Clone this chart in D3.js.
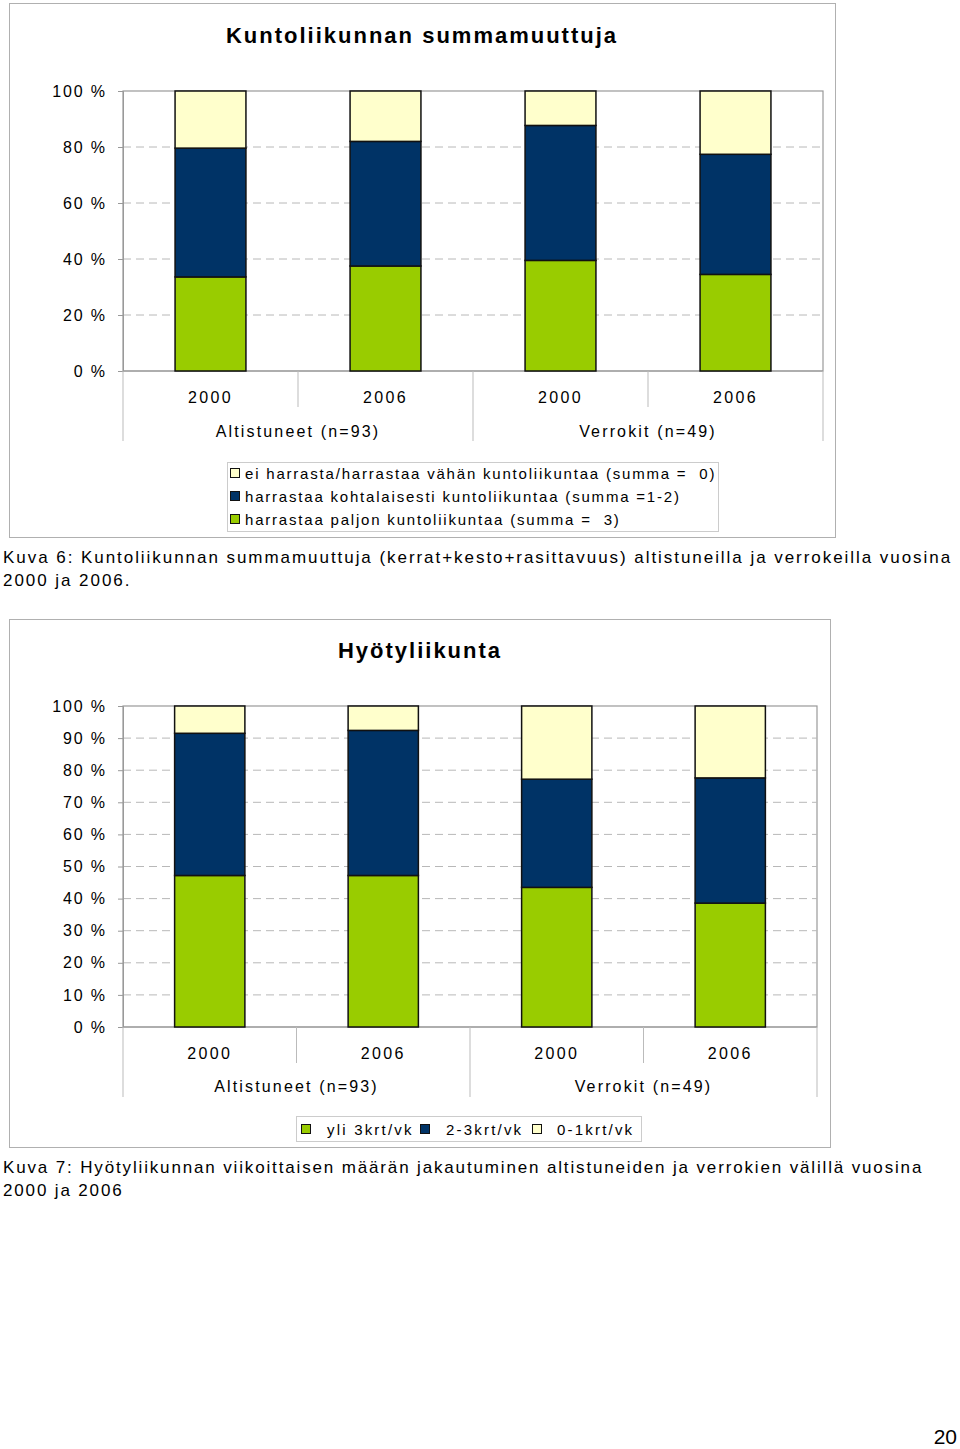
<!DOCTYPE html>
<html><head><meta charset="utf-8">
<script src="https://cdn.jsdelivr.net/npm/d3@7/dist/d3.min.js"></script>
<style>
body{margin:0;background:#fff;}
svg{display:block;font-family:"Liberation Sans",Arial,sans-serif;}
</style></head><body>
<svg id="c" width="960" height="1449"></svg>
<script>
// ---- data ----
const groups = ["Altistuneet (n=93)", "Verrokit (n=49)"];
const years = ["2000", "2006", "2000", "2006"];

// Chart 1: Kuntoliikunnan summamuuttuja (%)
const c1Title = "Kuntoliikunnan summamuuttuja";
const c1Paljon = [33.6, 37.5, 39.5, 34.5];   // harrastaa paljon (summa = 3)
const c1Kohtal = [46.0, 44.5, 48.2, 42.9];   // harrastaa kohtalaisesti (summa = 1-2)
const c1Vahan  = [20.4, 18.0, 12.3, 22.6];   // ei harrasta/harrastaa vähän (summa = 0)
const c1Legend = ["ei harrasta/harrastaa vähän kuntoliikuntaa (summa =  0)",
                  "harrastaa kohtalaisesti kuntoliikuntaa (summa =1-2)",
                  "harrastaa paljon kuntoliikuntaa (summa =  3)"];
const c1Ticks = [0, 20, 40, 60, 80, 100];
const c1Caption = ["Kuva 6: Kuntoliikunnan summamuuttuja (kerrat+kesto+rasittavuus) altistuneilla ja verrokeilla vuosina",
                   "2000 ja 2006."];

// Chart 2: Hyötyliikunta (%)
const c2Title = "Hyötyliikunta";
const c2Yli3 = [47.2, 47.2, 43.5, 38.6];   // yli 3krt/vk
const c2Mid  = [44.3, 45.2, 33.7, 39.0];   // 2-3krt/vk
const c2Low  = [8.5, 7.6, 22.8, 22.4];     // 0-1krt/vk
const c2Legend = ["yli 3krt/vk", "2-3krt/vk", "0-1krt/vk"];
const c2Ticks = [0, 10, 20, 30, 40, 50, 60, 70, 80, 90, 100];
const c2Caption = ["Kuva 7: Hyötyliikunnan viikoittaisen määrän jakautuminen altistuneiden ja verrokien välillä vuosina",
                   "2000 ja 2006"];

const GREEN = "#99cc00", NAVY = "#003366", CREAM = "#ffffcc";
const svg = d3.select("#c");

function drawChart(o) {
  const g = svg.append("g");
  g.append("rect").attr("x", o.box[0]).attr("y", o.box[1]).attr("width", o.box[2]).attr("height", o.box[3])
    .attr("fill", "#fff").attr("stroke", "#b0b0b0").attr("stroke-width", 1);
  g.append("text").attr("x", o.titleX).attr("y", o.titleY).attr("text-anchor", "middle")
    .attr("font-size", 22).attr("font-weight", "bold").attr("letter-spacing", 2.0).text(o.title);

  const x = d3.scaleBand().domain(d3.range(4)).range([o.px0, o.px1]).paddingInner(0.595).paddingOuter(0.2975);
  const xb = d3.scaleBand().domain(d3.range(4)).range([o.px0, o.px1]);
  const y = d3.scaleLinear().domain([0, 100]).range([o.py1, o.py0]);

  g.append("rect").attr("x", o.px0).attr("y", o.py0).attr("width", o.px1 - o.px0).attr("height", o.py1 - o.py0)
    .attr("fill", "none").attr("stroke", "#999").attr("stroke-width", 1.2);
  g.selectAll(".grid").data(o.ticks.filter(t => t > 0 && t < 100)).join("line")
    .attr("x1", o.px0).attr("x2", o.px1).attr("y1", d => y(d)).attr("y2", d => y(d))
    .attr("stroke", "#b8b8b8").attr("stroke-dasharray", "8,5");
  const ya = d3.axisLeft(y).tickValues(o.ticks).tickFormat(d => d + " %").tickSize(5).tickPadding(11);
  const yg = g.append("g").attr("transform", `translate(${o.px0},0)`).call(ya);
  yg.select(".domain").attr("stroke", "#999");
  yg.selectAll(".tick line").attr("stroke", "#999");
  yg.selectAll("text").attr("font-size", 16).attr("letter-spacing", 1.9).attr("fill", "#000")
    .attr("font-family", "Liberation Sans, Arial, sans-serif");
  g.append("line").attr("x1", o.px0).attr("x2", o.px1).attr("y1", o.py1).attr("y2", o.py1).attr("stroke", "#999").attr("stroke-width", 1.2);

  const rows = d3.range(4).map(i => ({i, a: o.s[0][i], b: o.s[1][i], c: o.s[2][i]}));
  const stack = d3.stack().keys(["a", "b", "c"])(rows);
  const cols = o.colors;
  g.selectAll(".layer").data(stack).join("g").attr("fill", (d, k) => cols[k])
    .selectAll("rect").data(d => d).join("rect")
    .attr("x", d => x(d.data.i)).attr("width", x.bandwidth())
    .attr("y", d => y(d[1])).attr("height", d => y(d[0]) - y(d[1]))
    .attr("stroke", "#111").attr("stroke-width", 1.5);

  const bounds = d3.range(5).map(k => k < 4 ? xb(k) : xb(3) + xb.bandwidth());
  bounds.forEach((bx, k) => {
    const long = (k % 2 === 0);
    g.append("line").attr("x1", bx).attr("x2", bx).attr("y1", o.py1).attr("y2", o.py1 + (long ? o.sepLong : o.sepShort))
      .attr("stroke", "#bbb").attr("stroke-width", 1);
  });
  g.selectAll(".yr").data(years).join("text")
    .attr("x", (d, i) => xb(i) + xb.bandwidth() / 2).attr("y", o.yearY).attr("text-anchor", "middle")
    .attr("font-size", 16).attr("letter-spacing", 2.4).text(d => d);
  g.selectAll(".grp").data(groups).join("text")
    .attr("x", (d, k) => xb(k * 2 + 1)).attr("y", o.groupY).attr("text-anchor", "middle")
    .attr("font-size", 16).attr("letter-spacing", 2.15).text(d => d);
  return g;
}

// ---------- Chart 1 ----------
drawChart({
  box: [9.5, 3.5, 826, 534], title: c1Title, titleX: 422, titleY: 43,
  px0: 123, px1: 823, py0: 91, py1: 371, ticks: c1Ticks,
  s: [c1Paljon, c1Kohtal, c1Vahan], colors: [GREEN, NAVY, CREAM],
  sepShort: 36, sepLong: 70, yearY: 403, groupY: 437
});
{
  const lg = svg.append("g");
  lg.append("rect").attr("x", 227.5).attr("y", 462.5).attr("width", 491).attr("height", 69)
    .attr("fill", "#fff").attr("stroke", "#ccc");
  const lc = [CREAM, NAVY, GREEN];
  c1Legend.forEach((t, k) => {
    const cy = 473 + k * 23;
    lg.append("rect").attr("x", 230.5).attr("y", cy - 4.5).attr("width", 9).attr("height", 9)
      .attr("fill", lc[k]).attr("stroke", "#111").attr("stroke-width", 1);
    lg.append("text").attr("x", 245).attr("y", cy + 5.5).attr("font-size", 15).attr("letter-spacing", 1.8)
      .style("white-space", "pre").text(t);
  });
}
c1Caption.forEach((t, k) => svg.append("text").attr("x", 3).attr("y", 563 + k * 23)
  .attr("font-size", 17).attr("letter-spacing", 1.95).text(t));

// ---------- Chart 2 ----------
drawChart({
  box: [9.5, 619.5, 821, 528], title: c2Title, titleX: 420, titleY: 658,
  px0: 123, px1: 817, py0: 706, py1: 1027, ticks: c2Ticks,
  s: [c2Yli3, c2Mid, c2Low], colors: [GREEN, NAVY, CREAM],
  sepShort: 36, sepLong: 70, yearY: 1059, groupY: 1092
});
{
  const lg = svg.append("g");
  lg.append("rect").attr("x", 296.5).attr("y", 1116.5).attr("width", 345).attr("height", 25)
    .attr("fill", "#fff").attr("stroke", "#ccc");
  const lc = [GREEN, NAVY, CREAM];
  const sx = [301, 420, 532], tx = [327, 446, 557];
  c2Legend.forEach((t, k) => {
    lg.append("rect").attr("x", sx[k] + 0.5).attr("y", 1124.5).attr("width", 9).attr("height", 9)
      .attr("fill", lc[k]).attr("stroke", "#111").attr("stroke-width", 1);
    lg.append("text").attr("x", tx[k]).attr("y", 1134.5).attr("font-size", 15).attr("letter-spacing", 2.2).text(t);
  });
}
c2Caption.forEach((t, k) => svg.append("text").attr("x", 3).attr("y", 1173 + k * 23)
  .attr("font-size", 17).attr("letter-spacing", 1.85).text(t));

svg.append("text").attr("x", 957).attr("y", 1444).attr("text-anchor", "end").attr("font-size", 21).text("20");
</script>
</body></html>
